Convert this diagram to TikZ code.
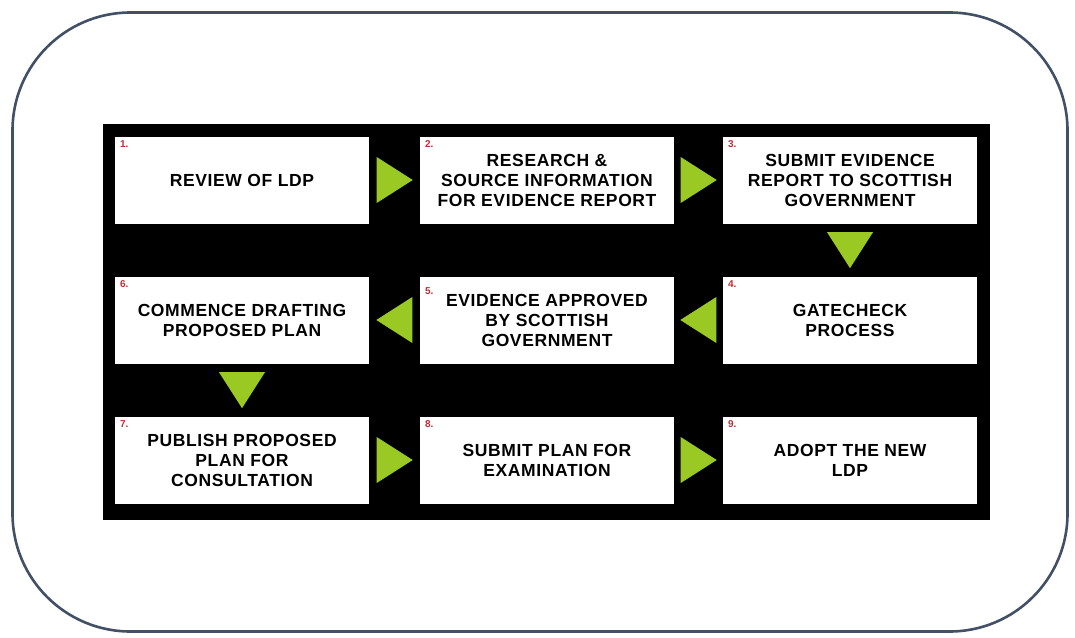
\documentclass[tikz,border=0pt]{standalone}
\usepackage{fontspec}
\setmainfont{Liberation Sans}
\usetikzlibrary{shapes.geometric,calc}

\definecolor{framegray}{RGB}{66,80,102}
\definecolor{arrowgreen}{RGB}{155,201,35}
\definecolor{numred}{RGB}{190,45,55}

\tikzset{
  stage/.style={fill=white, minimum width=254pt, minimum height=87pt, inner sep=0pt,
    align=center, font=\fontsize{17.5}{20}\selectfont\bfseries\addfontfeatures{LetterSpace=3.5}},
  num/.style={text=numred, font=\fontsize{10}{10}\selectfont\bfseries, inner sep=0pt},
  tri/.style={isosceles triangle, isosceles triangle stretches, fill=arrowgreen,
    minimum width=46pt, minimum height=36pt, inner sep=0pt, anchor=lower side}
}

\begin{document}
\begin{tikzpicture}[x=1pt, y=-1pt]
    \useasboundingbox (0,0) rectangle (1075,637);
    \node[draw=framegray, line width=2.6pt, rounded corners=118pt, minimum width=1055pt, minimum height=619pt](outer) at (540,322) {};  % frame
    \node[fill=black, minimum width=887pt, minimum height=396pt, inner sep=0pt](board) at (546.5,322) {};  % black board

    % row 1
    \node[stage](s1) at (242,180) {REVIEW OF LDP};
    \node[stage](s2) at (547,180) {RESEARCH \&\\SOURCE INFORMATION\\FOR EVIDENCE REPORT};
    \node[stage](s3) at (850,180) {SUBMIT EVIDENCE\\REPORT TO SCOTTISH\\GOVERNMENT};
    % row 2
    \node[stage](s4) at (850,320) {GATECHECK\\PROCESS};
    \node[stage](s5) at (547,320) {EVIDENCE APPROVED\\BY SCOTTISH\\GOVERNMENT};
    \node[stage](s6) at (242,320) {COMMENCE DRAFTING\\PROPOSED PLAN};
    % row 3
    \node[stage](s7) at (242,460) {PUBLISH PROPOSED\\PLAN FOR\\CONSULTATION};
    \node[stage](s8) at (547,460) {SUBMIT PLAN FOR\\EXAMINATION};
    \node[stage](s9) at (850,460) {ADOPT THE NEW\\LDP};

    % step numbers
    \foreach \i in {1,2,3,4,6,7,8,9} {
        \node[num, anchor=north west](n\i) at ($(s\i.north west)+(5,4)$) {\i.};
    }
    \node[num, anchor=north west](n5) at ($(s5.north west)+(5,11)$) {5.};

    % arrows
    \node[tri](a12) at ($(s1.east)!0.5!(s2.west)+(-18,0)$) {};
    \node[tri](a23) at ($(s2.east)!0.5!(s3.west)+(-18,0)$) {};
    \node[tri, rotate=-90](a34) at ($(s3.south)!0.5!(s4.north)+(0,-18)$) {};
    \node[tri, rotate=180](a45) at ($(s4.west)!0.5!(s5.east)+(18,0)$) {};
    \node[tri, rotate=180](a56) at ($(s5.west)!0.5!(s6.east)+(18,0)$) {};
    \node[tri, rotate=-90](a67) at ($(s6.south)!0.5!(s7.north)+(0,-18)$) {};
    \node[tri](a78) at ($(s7.east)!0.5!(s8.west)+(-18,0)$) {};
    \node[tri](a89) at ($(s8.east)!0.5!(s9.west)+(-18,0)$) {};
\end{tikzpicture}
\end{document}
